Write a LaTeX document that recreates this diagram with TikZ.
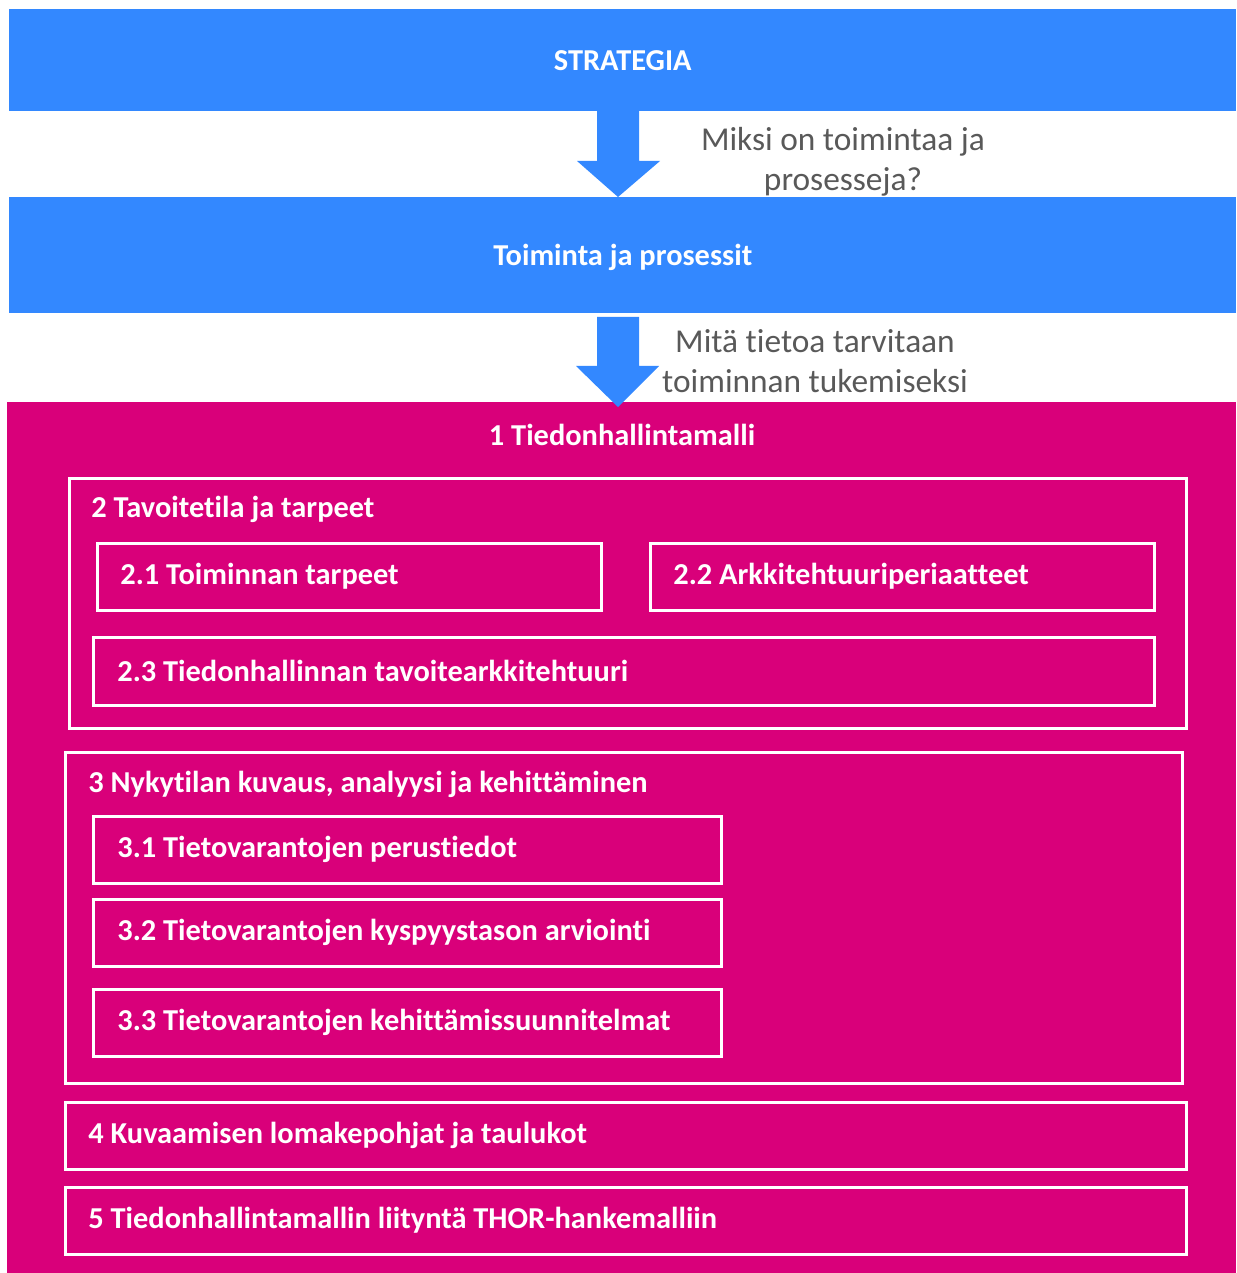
\documentclass[tikz,border=0pt]{standalone}
\usepackage{fontspec}
\setmainfont{Carlito}[Ligatures={NoCommon}]
\usetikzlibrary{positioning,calc}

\definecolor{barblue}{RGB}{51,136,255}
\definecolor{tmagenta}{RGB}{217,0,122}
\definecolor{askgray}{RGB}{89,89,89}

\begin{document}
\begin{tikzpicture}[x=0.02cm, y=-0.02cm,
  bar/.style={fill=barblue, minimum width=24.54cm, anchor=north west, inner sep=0pt,
    text=white, text height=13pt, text depth=1pt, font=\fontsize{17.3}{20}\selectfont\bfseries},
  frame/.style={draw=white, line width=1.7pt, anchor=north west, inner sep=0pt},
  title/.style={anchor=west, text=white, inner sep=0pt, font=\fontsize{17.3}{20}\selectfont\bfseries},
  ask/.style={text=askgray, align=center, font=\fontsize{19}{22.7}\selectfont}]

  \useasboundingbox (0,0) rectangle (1236,1273);

  % the two blue bars on top
  \node (strategia) [bar, minimum height=2.04cm] at (9,9) {STRATEGIA};
  \node (toiminta) [bar, minimum height=2.32cm] at (9,197) {Toiminta ja prosessit};

  % magenta background of the model
  \node (malli) [fill=tmagenta, minimum width=24.58cm, minimum height=17.42cm, anchor=north west, inner sep=0pt] at (7,402) {};
  \node (mallititle) [title, anchor=center] at (622,435) {1 Tiedonhallintamalli};

  % block arrows between the layers
  \fill[barblue] (597,111) -- (639,111) -- (639,161) -- (660,161) -- (618,197) -- (577,161) -- (597,161) -- cycle;
  \fill[barblue] (597,317) -- (639,317) -- (639,366) -- (659,366) -- (618,407) -- (576,366) -- (597,366) -- cycle;
  \node (miksi) [ask] at (843,162) {Miksi on toimintaa ja\\prosesseja?};
  \node (mita) [ask] at (815,361) {Mitä tietoa tarvitaan\\toiminnan tukemiseksi};

  % 2 Tavoitetila ja tarpeet
  \node (b2) [frame, minimum width=22.34cm, minimum height=5cm] at (68,477) {};
  \node (t2) [title] at (91,509) {2 Tavoitetila ja tarpeet};
  \node (b21) [frame, minimum width=10.08cm, minimum height=1.34cm] at (96,542) {};
  \node (t21) [title] at ($(b21.west)+(24,-1)$) {2.1 Toiminnan tarpeet};
  \node (b22) [frame, minimum width=10.08cm, minimum height=1.34cm] at (649,542) {};
  \node (t22) [title] at ($(b22.west)+(24,-1)$) {2.2 Arkkitehtuuriperiaatteet};
  \node (b23) [frame, minimum width=21.22cm, minimum height=1.36cm] at (92,636) {};
  \node (t23) [title] at ($(b23.west)+(25,-1)$) {2.3 Tiedonhallinnan tavoitearkkitehtuuri};

  % 3 Nykytila
  \node (b3) [frame, minimum width=22.34cm, minimum height=6.62cm] at (64,751) {};
  \node (t3) [title] at (88,784) {3 Nykytilan kuvaus, analyysi ja kehittäminen};
  \node (b31) [frame, minimum width=12.56cm, minimum height=1.34cm] at (92,815) {};
  \node (t31) [title] at ($(b31.west)+(25,-1)$) {3.1 Tietovarantojen perustiedot};
  \node (b32) [frame, minimum width=12.56cm, minimum height=1.34cm] at (92,898) {};
  \node (t32) [title] at ($(b32.west)+(25,-1)$) {3.2 Tietovarantojen kyspyystason arviointi};
  \node (b33) [frame, minimum width=12.56cm, minimum height=1.34cm] at (92,988) {};
  \node (t33) [title] at ($(b33.west)+(25,-1)$) {3.3 Tietovarantojen kehittämissuunnitelmat};

  % 4 and 5
  \node (b4) [frame, minimum width=22.42cm, minimum height=1.34cm] at (64,1101) {};
  \node (t4) [title] at ($(b4.west)+(24,-1)$) {4 Kuvaamisen lomakepohjat ja taulukot};
  \node (b5) [frame, minimum width=22.42cm, minimum height=1.34cm] at (64,1186) {};
  \node (t5) [title] at ($(b5.west)+(24,-1)$) {5 Tiedonhallintamallin liityntä THOR-hankemalliin};

\end{tikzpicture}
\end{document}
